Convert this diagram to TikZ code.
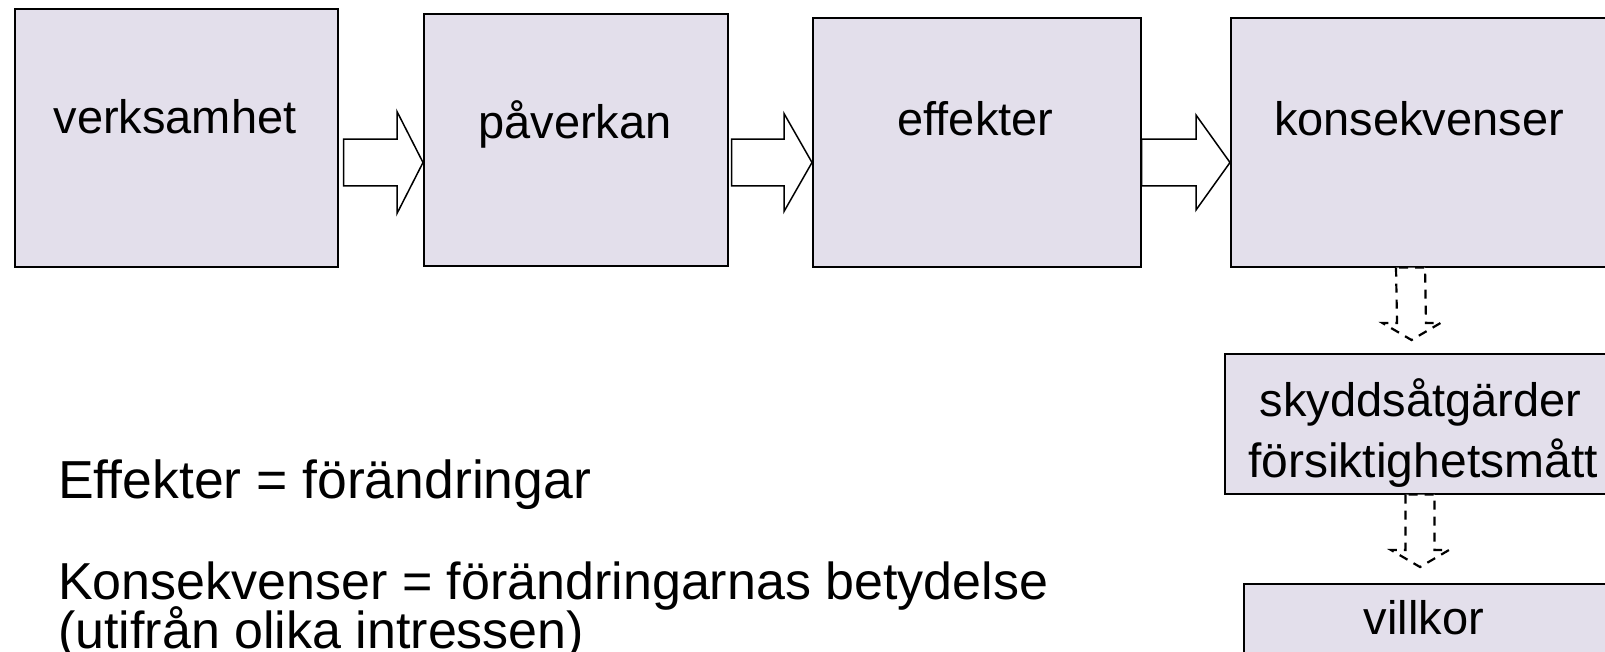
\documentclass[tikz,border=0pt]{standalone}
\usepackage{fontspec}
\setmainfont{Liberation Sans}
\usetikzlibrary{calc}
\definecolor{boxfill}{RGB}{227,223,235}
\tikzset{
  box/.style={draw=black, line width=1.6pt, fill=boxfill, inner sep=0pt, anchor=north west},
  boxtext/.style={anchor=base, inner sep=0pt, font=\fontsize{47}{54}\selectfont},
  notetext/.style={anchor=base west, inner sep=0pt, font=\fontsize{52}{50}\selectfont},
  solidarrow/.style={draw=black, line width=1.5pt, fill=white, line join=miter},
  dasharrow/.style={draw=black, line width=2.2pt, fill=white, dash pattern=on 9pt off 7pt, line join=miter}
}
% #1 start, #2 tip, #3 head half height, #4 head length
\newcommand{\hblockarrow}[4]{%
  \path[solidarrow] ($(#1)+(0,-23.4)$) -- ($(#2)+(-#4,-23.4)$) -- ($(#2)+(-#4,-#3)$) -- (#2)
    -- ($(#2)+(-#4,#3)$) -- ($(#2)+(-#4,23.4)$) -- ($(#1)+(0,23.4)$) -- cycle;}
\newcommand{\vblockarrow}[2]{%
  \path[dasharrow] ($(#1)+(-14.5,0)$) -- ($(#2)+(-14.5,-17)$) -- ($(#2)+(-29,-17)$) -- (#2)
    -- ($(#2)+(29,-17)$) -- ($(#2)+(14.5,-17)$) -- ($(#1)+(14.5,0)$) -- cycle;}
\begin{document}
\begin{tikzpicture}[x=1pt,y=-1pt]
\useasboundingbox (0,0) rectangle (1605,651);
\fill[white] (0,0) rectangle (1605,651);
% boxes
\node[box, minimum width=323pt, minimum height=258pt] (b1) at (14,8) {};
\node[box, minimum width=304pt, minimum height=252pt] (b2) at (423,13) {};
\node[box, minimum width=328pt, minimum height=249pt] (b3) at (812,17) {};
\node[box, minimum width=380pt, minimum height=249pt] (b4) at (1230,17) {};
\node[box, minimum width=386pt, minimum height=140pt] (b5) at (1224,353) {};
\node[box, minimum width=370pt, minimum height=90pt] (b6) at (1243,583) {};
% box texts
\node[boxtext] (t1) at (175,133) {verksamhet};
\node[boxtext] (t2) at (575,138) {påverkan};
\node[boxtext] (t3) at (975.5,135) {effekter};
\node[boxtext] (t4) at (1419,135) {konsekvenser};
\node[boxtext] (t5a) at (1420.5,416) {skyddsåtgärder};
\node[boxtext, font=\fontsize{48}{54}\selectfont] (t5b) at (1423,477) {försiktighetsmått};
\node[boxtext] (t6) at (1424,634) {villkor};
% horizontal block arrows
\coordinate (a1s) at ($(b1.east |- 0,162.5)+(5,0)$);
\coordinate (a1e) at (b2.west |- a1s);
\coordinate (a2s) at ($(b2.east |- 0,162.5)+(3,0)$);
\coordinate (a2e) at (b3.west |- a2s);
\coordinate (a3s) at (b3.east |- 0,162.5);
\coordinate (a3e) at (b4.west |- a3s);
\hblockarrow{a1s}{a1e}{51}{26}
\hblockarrow{a2s}{a2e}{49}{28}
\hblockarrow{a3s}{a3e}{47.5}{34}
% vertical dashed block arrows
\coordinate (d1s) at (b4.south -| 1410.5,0);
\coordinate (d1e) at (1411.5,340);
\coordinate (d2s) at (b5.south -| 1420,0);
\coordinate (d2e) at (1420,567);
\vblockarrow{d1s}{d1e}
\vblockarrow{d2s}{d2e}
% notes
\node[notetext, font=\fontsize{53.5}{50}\selectfont] (n1) at (58,498.5) {Effekter = förändringar};
\node[notetext] (n2) at (58,599) {Konsekvenser = förändringarnas betydelse};
\node[notetext] (n3) at (58,648) {(utifrån olika intressen)};
\end{tikzpicture}
\end{document}
